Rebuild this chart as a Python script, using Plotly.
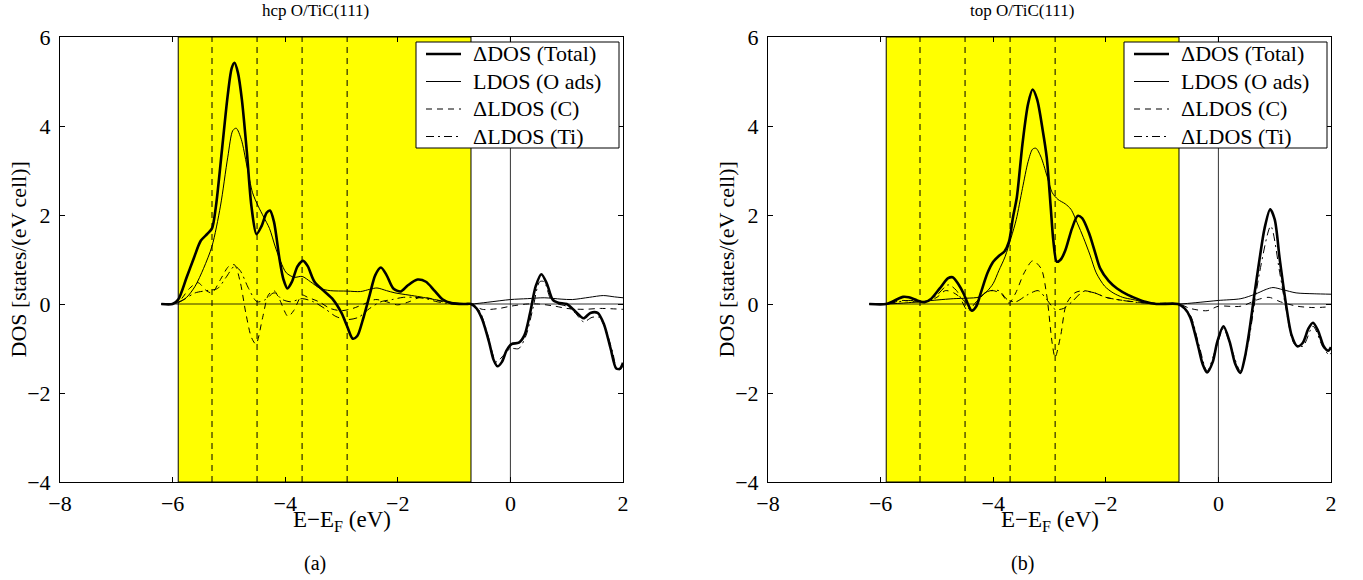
import plotly.graph_objects as go

# ---------------- data ----------------
x_ticks = [-8, -6, -4, -2, 0, 2]
y_ticks = [-4, -2, 0, 2, 4, 6]
band_lo, band_hi = -5.9, -0.7
marker_lines = [-5.3, -4.5, -3.7, -2.9]
titles = ["hcp O/TiC(111)", "top O/TiC(111)"]
sublabels = ["(a)", "(b)"]
series_names = ["ΔDOS (Total)", "LDOS (O ads)", "ΔLDOS (C)", "ΔLDOS (Ti)"]

# hcp panel
hcp_total_x = [-6.2, -6.0, -5.9, -5.75, -5.62, -5.5, -5.38, -5.3, -5.23, -5.12, -5.02, -4.95, -4.9, -4.84, -4.77, -4.68, -4.6, -4.51, -4.42, -4.33, -4.27, -4.2, -4.1, -4.03, -3.96, -3.88, -3.78, -3.68, -3.6, -3.48, -3.32, -3.15, -3.0, -2.9, -2.8, -2.72, -2.62, -2.5, -2.4, -2.3, -2.2, -2.08, -1.95, -1.82, -1.65, -1.5, -1.35, -1.2, -1.05, -0.8, -0.7, -0.6, -0.5, -0.38, -0.3, -0.23, -0.15, -0.07, 0.02, 0.15, 0.25, 0.35, 0.45, 0.55, 0.65, 0.75, 0.85, 1.0, 1.15, 1.3, 1.42, 1.55, 1.66, 1.78, 1.88, 1.95, 2.0]
hcp_total_y = [0, 0.0, 0.1, 0.6, 1.04, 1.42, 1.58, 1.7, 2.2, 3.5, 4.7, 5.3, 5.42, 5.2, 4.6, 3.4, 2.2, 1.57, 1.75, 2.05, 2.1, 1.85, 1.0, 0.55, 0.35, 0.5, 0.85, 0.97, 0.85, 0.5, 0.3, 0.1, -0.2, -0.5, -0.78, -0.72, -0.35, 0.2, 0.65, 0.82, 0.65, 0.35, 0.28, 0.42, 0.55, 0.5, 0.3, 0.1, 0.02, 0.0, 0.0, -0.1, -0.35, -0.85, -1.25, -1.4, -1.3, -1.05, -0.9, -0.87, -0.7, -0.2, 0.4, 0.67, 0.45, 0.1, 0.03, 0.0, -0.16, -0.32, -0.2, -0.2, -0.45, -1.0, -1.45, -1.45, -1.32]

hcp_o_x = [-6.2, -6.0, -5.9, -5.75, -5.6, -5.45, -5.3, -5.15, -5.02, -4.93, -4.87, -4.78, -4.68, -4.58, -4.48, -4.38, -4.28, -4.18, -4.08, -3.98, -3.84, -3.7, -3.55, -3.38, -3.2, -2.9, -2.66, -2.5, -2.37, -2.2, -2.05, -1.8, -1.6, -1.35, -1.12, -0.9, -0.7, -0.4, 0.0, 0.3, 0.6, 0.9, 1.1, 1.4, 1.65, 1.85, 2.0]
hcp_o_y = [0, 0, 0.03, 0.15, 0.4, 0.8, 1.3, 2.2, 3.3, 3.9, 3.95, 3.7, 3.1, 2.5, 2.2, 1.95, 1.7, 1.3, 0.95, 0.7, 0.6, 0.62, 0.5, 0.35, 0.3, 0.29, 0.28, 0.33, 0.36, 0.3, 0.25, 0.2, 0.16, 0.1, 0.05, 0.01, 0.0, 0.04, 0.1, 0.12, 0.14, 0.11, 0.1, 0.15, 0.19, 0.16, 0.14]

hcp_c_x = [-6.2, -5.9, -5.7, -5.55, -5.4, -5.3, -5.15, -5.0, -4.9, -4.8, -4.7, -4.6, -4.52, -4.4, -4.3, -4.2, -4.1, -3.95, -3.85, -3.7, -3.6, -3.4, -3.2, -3.0, -2.8, -2.6, -2.4, -2.2, -2.0, -1.8, -1.6, -1.4, -1.2, -0.9, -0.7, -0.5, -0.2, 0.0, 0.3, 0.5, 0.8, 1.0, 1.3, 1.6, 2.0]
hcp_c_y = [0, 0.05, 0.35, 0.48, 0.3, 0.25, 0.55, 0.85, 0.88, 0.5, -0.2, -0.75, -0.9, -0.3, 0.2, 0.3, 0.1, -0.28, -0.15, 0.2, 0.15, 0.05, -0.1, -0.15, -0.1, 0.0, 0.1, 0.05, -0.02, 0.05, 0.15, 0.12, 0.05, 0.0, 0.0, -0.12, -0.1, -0.05, 0.0, 0.0, -0.05, -0.1, -0.12, -0.1, -0.12]

hcp_ti_x = [-6.2, -6.0, -5.8, -5.6, -5.4, -5.2, -5.05, -4.9, -4.8, -4.65, -4.5, -4.35, -4.2, -4.05, -3.9, -3.7, -3.5, -3.3, -3.1, -2.9, -2.7, -2.5, -2.3, -2.1, -1.9, -1.7, -1.5, -1.3, -1.0, -0.7, -0.55, -0.4, -0.25, -0.12, 0.0, 0.15, 0.28, 0.4, 0.52, 0.6, 0.72, 0.85, 1.0, 1.15, 1.3, 1.45, 1.58, 1.7, 1.82, 1.9, 2.0]
hcp_ti_y = [0, 0, 0.1, 0.25, 0.3, 0.35, 0.6, 0.85, 0.75, 0.35, 0.05, 0.1, 0.25, 0.1, 0.05, 0.12, 0.05, -0.1, -0.28, -0.35, -0.3, -0.1, 0.05, 0.1, 0.15, 0.15, 0.12, 0.05, 0.0, 0.0, -0.15, -0.7, -1.3, -1.15, -1.0, -1.0, -0.7, -0.1, 0.5, 0.5, 0.1, 0.0, -0.05, -0.2, -0.4, -0.3, -0.3, -0.6, -1.1, -1.5, -1.4]

# top panel
top_total_x = [-6.2, -5.9, -5.75, -5.6, -5.5, -5.35, -5.22, -5.1, -4.95, -4.8, -4.72, -4.62, -4.52, -4.45, -4.38, -4.3, -4.22, -4.1, -4.0, -3.9, -3.8, -3.72, -3.65, -3.58, -3.48, -3.38, -3.3, -3.22, -3.12, -3.05, -2.98, -2.93, -2.87, -2.8, -2.72, -2.6, -2.5, -2.42, -2.3, -2.2, -2.1, -1.95, -1.8, -1.6, -1.45, -1.3, -1.1, -0.72, -0.6, -0.5, -0.36, -0.28, -0.2, -0.1, -0.02, 0.09, 0.2, 0.3, 0.39, 0.47, 0.55, 0.64, 0.73, 0.82, 0.92, 1.0, 1.09, 1.2, 1.3, 1.4, 1.5, 1.6, 1.68, 1.77, 1.87, 1.95, 2.0]
top_total_y = [0, 0.0, 0.08, 0.16, 0.15, 0.08, 0.04, 0.12, 0.35, 0.58, 0.6, 0.45, 0.22, 0.0, -0.15, -0.05, 0.25, 0.7, 0.95, 1.08, 1.18, 1.4, 1.94, 2.4, 3.6, 4.5, 4.82, 4.6, 3.9, 3.3, 2.2, 1.4, 0.95, 1.0, 1.2, 1.7, 1.98, 1.93, 1.6, 1.2, 0.8, 0.52, 0.35, 0.2, 0.12, 0.05, 0.0, 0.0, -0.1, -0.3, -0.95, -1.35, -1.54, -1.3, -0.85, -0.5, -0.85, -1.35, -1.55, -1.2, -0.6, 0.22, 1.0, 1.7, 2.13, 1.9, 1.0, 0.0, -0.7, -0.95, -0.87, -0.55, -0.42, -0.6, -0.95, -1.05, -0.97]

top_o_x = [-6.2, -5.9, -5.5, -5.0, -4.7, -4.47, -4.24, -4.1, -4.0, -3.9, -3.79, -3.68, -3.59, -3.48, -3.38, -3.3, -3.24, -3.15, -3.05, -2.95, -2.85, -2.72, -2.62, -2.5, -2.4, -2.28, -2.17, -2.02, -1.87, -1.7, -1.52, -1.3, -1.1, -0.7, -0.4, 0.0, 0.4, 0.65, 0.85, 0.97, 1.15, 1.38, 1.7, 2.0]
top_o_y = [0, 0.0, 0.03, 0.09, 0.12, 0.13, 0.16, 0.3, 0.46, 0.75, 1.06, 1.5, 1.9, 2.6, 3.2, 3.48, 3.5, 3.3, 2.9, 2.5, 2.35, 2.25, 2.13, 1.8, 1.5, 1.1, 0.7, 0.4, 0.25, 0.15, 0.1, 0.04, 0.01, 0.0, 0.03, 0.08, 0.12, 0.22, 0.33, 0.37, 0.32, 0.25, 0.23, 0.22]

top_c_x = [-6.2, -5.9, -5.6, -5.4, -5.2, -5.0, -4.85, -4.7, -4.5, -4.4, -4.3, -4.15, -4.0, -3.85, -3.72, -3.6, -3.45, -3.3, -3.15, -3.05, -2.95, -2.9, -2.8, -2.7, -2.55, -2.4, -2.2, -2.0, -1.8, -1.5, -1.2, -0.7, -0.5, -0.2, 0.0, 0.4, 0.7, 0.9, 1.1, 1.4, 1.7, 2.0]
top_c_y = [0, 0, 0.08, 0.05, 0.05, 0.15, 0.3, 0.25, 0.05, -0.15, 0.0, 0.25, 0.3, 0.22, 0.02, 0.25, 0.7, 0.97, 0.8, 0.2, -0.9, -1.2, -0.7, 0.0, 0.25, 0.3, 0.25, 0.15, 0.1, 0.05, 0.02, 0, -0.1, -0.15, -0.05, -0.05, 0.1, 0.15, 0.05, -0.05, -0.08, -0.06]

top_ti_x = [-6.2, -5.9, -5.5, -5.2, -5.0, -4.8, -4.65, -4.45, -4.3, -4.1, -3.9, -3.75, -3.6, -3.4, -3.2, -3.05, -2.9, -2.75, -2.6, -2.4, -2.2, -2.0, -1.7, -1.4, -1.0, -0.7, -0.5, -0.35, -0.2, -0.04, 0.09, 0.23, 0.39, 0.52, 0.64, 0.73, 0.93, 1.09, 1.2, 1.35, 1.5, 1.68, 1.85, 1.97, 2.0]
top_ti_y = [0, 0, 0.08, 0.05, 0.2, 0.43, 0.3, -0.15, 0.05, 0.28, 0.3, 0.1, 0.05, 0.2, 0.3, 0.1, -0.12, -0.1, 0.05, 0.28, 0.25, 0.15, 0.08, 0.03, 0, 0, -0.25, -0.9, -1.5, -0.98, -0.55, -1.0, -1.5, -0.95, 0.0, 0.7, 1.75, 0.7, -0.1, -0.9, -0.95, -0.5, -0.95, -1.15, -1.1]

panels = [
    [(hcp_total_x, hcp_total_y), (hcp_o_x, hcp_o_y), (hcp_c_x, hcp_c_y), (hcp_ti_x, hcp_ti_y)],
    [(top_total_x, top_total_y), (top_o_x, top_o_y), (top_c_x, top_c_y), (top_ti_x, top_ti_y)],
]

# ---------------- styling ----------------
FONT = "Liberation Serif"
styles = [dict(width=2.6, dash="solid"), dict(width=1.0, dash="solid"),
          dict(width=1.0, dash="6px,5px"), dict(width=1.0, dash="8px,4px,2px,4px")]

W, H = 1363, 580
ax_left = [60, 768]
ax_right = [623, 1331]
ax_top, ax_bot = 37, 482
x_domains = [[ax_left[p] / W, ax_right[p] / W] for p in range(2)]
y_domain = [1 - ax_bot / H, 1 - ax_top / H]
caption_px = [315, 1022]

def px(xp):
    return xp / W

def py(yp):
    return 1 - yp / H

fig = go.Figure()

for p in range(2):
    xa = "x" if p == 0 else "x2"
    ya = "y" if p == 0 else "y2"
    yref_dom = "y domain" if p == 0 else "y2 domain"
    fig.add_shape(type="rect", xref=xa, yref=yref_dom, x0=band_lo, x1=band_hi, y0=0, y1=1,
                  fillcolor="#ffff00", line=dict(color="black", width=1), layer="below")
    for xv in marker_lines:
        fig.add_shape(type="line", xref=xa, yref=yref_dom, x0=xv, x1=xv, y0=0, y1=1,
                      line=dict(color="black", width=1, dash="6px,5px"), layer="below")
    fig.add_shape(type="line", xref=xa, yref=yref_dom, x0=0, x1=0, y0=0, y1=1,
                  line=dict(color="black", width=0.8), layer="below")
    fig.add_shape(type="line", xref=xa, yref=ya, x0=-6.2, x1=2, y0=0, y1=0,
                  line=dict(color="black", width=0.8), layer="below")
    for i in [1, 2, 3, 0]:
        xs, ys = panels[p][i]
        fig.add_trace(go.Scatter(x=xs, y=ys, mode="lines", name=series_names[i],
                                 line=dict(color="black", shape="spline", smoothing=0.8, **styles[i]),
                                 xaxis=xa, yaxis=ya, showlegend=False))

    # legend box (drawn in the paper space, above the data)
    r = ax_right[p] - 4
    l = r - 203
    t, b = 42, 148
    fig.add_shape(type="rect", xref="paper", yref="paper", x0=px(l), x1=px(r), y0=py(b), y1=py(t),
                  fillcolor="white", line=dict(color="black", width=1), layer="above")
    row_y = [54, 81.5, 109, 136.5]
    for i in range(4):
        fig.add_shape(type="line", xref="paper", yref="paper",
                      x0=px(l + 10), x1=px(l + 45), y0=py(row_y[i]), y1=py(row_y[i]),
                      line=dict(color="black", **styles[i]), layer="above")
        fig.add_annotation(text=series_names[i], xref="paper", yref="paper",
                           x=px(l + 55), y=py(row_y[i]), xanchor="left", yanchor="middle",
                           showarrow=False, font=dict(family=FONT, size=22, color="black"))

    cx = sum(x_domains[p]) / 2
    fig.add_annotation(text=titles[p], xref="paper", yref="paper", x=px(caption_px[p]), y=py(11),
                       xanchor="center", yanchor="middle", showarrow=False,
                       font=dict(family=FONT, size=17, color="black"))
    fig.add_annotation(text="E−E<sub>F</sub> (eV)", xref="paper", yref="paper", x=cx, y=py(521),
                       xanchor="center", yanchor="middle", showarrow=False,
                       font=dict(family=FONT, size=23, color="black"))
    fig.add_annotation(text=sublabels[p], xref="paper", yref="paper", x=px(caption_px[p]), y=py(563),
                       xanchor="center", yanchor="middle", showarrow=False,
                       font=dict(family=FONT, size=20, color="black"))
    fig.add_annotation(text="DOS [states/(eV cell)]", xref="paper", yref="paper",
                       x=px(ax_left[p] - 42), y=sum(y_domain) / 2, textangle=-90,
                       xanchor="center", yanchor="middle", showarrow=False,
                       font=dict(family=FONT, size=22, color="black"))

axis_common = dict(showgrid=False, zeroline=False, showline=True, linecolor="black", linewidth=1,
                   mirror="ticks", ticks="inside", ticklen=5, tickcolor="black", automargin=False,
                   tickfont=dict(family=FONT, size=22, color="black"))

for p in range(2):
    sfx = "" if p == 0 else "2"
    fig.update_layout(**{
        "xaxis" + sfx: dict(domain=x_domains[p], range=[-8, 2], tickvals=x_ticks,
                            anchor="y" + sfx, ticklabelstandoff=2, **axis_common),
        "yaxis" + sfx: dict(domain=y_domain, range=[-4, 6], tickvals=y_ticks,
                            anchor="x" + sfx, ticklabelstandoff=4, **axis_common),
    })

fig.update_layout(
    width=W, height=H, margin=dict(l=0, r=0, t=0, b=0), showlegend=False,
    plot_bgcolor="white", paper_bgcolor="white",
    font=dict(family=FONT, color="black"),
)

fig.write_html("out.html", config={"displayModeBar": False},
               post_script="document.body.style.margin='0';document.body.style.overflow='hidden';")
